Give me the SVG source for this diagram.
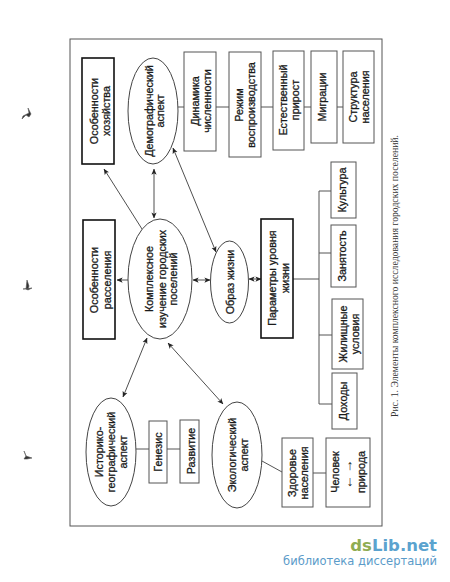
<svg xmlns="http://www.w3.org/2000/svg" width="450" height="582" viewBox="0 0 450 582">
<style>
.b{fill:#fff;stroke:#555;stroke-width:1}
.t{fill:#fff;stroke:#111;stroke-width:1.6}
.e{fill:#fff;stroke:#444;stroke-width:1}
.l{fill:none;stroke:#555;stroke-width:1}
.a{fill:none;stroke:#222;stroke-width:.8;marker-end:url(#h)}
.d{fill:none;stroke:#222;stroke-width:.8;marker-end:url(#h);marker-start:url(#h)}
text{font-family:"Liberation Sans",Arial,sans-serif;font-size:10.8px;font-weight:400;fill:#1a1a1a;stroke:#1a1a1a;stroke-width:.3;text-anchor:middle}
.s{fill:#333;stroke:#555;stroke-width:.6}
</style>
<defs>
<marker id="h" viewBox="0 0 8 8" refX="7.5" refY="4" markerWidth="6" markerHeight="6" markerUnits="userSpaceOnUse" orient="auto-start-reverse"><path d="M0 .5L8 4L0 7.5L2 4Z" fill="#222"/></marker>
</defs>
<rect width="450" height="582" fill="#fff"/>
<g id="specks">
<path class="s" d="M22 119L23 116L29 113L28 108L31 114L29 117L26 115Z"/>
<path class="s" d="M23 289L32 288L28 290L26 289L27 280L29 286L28 289Z"/>
<path class="s" d="M24 451L26 456L32 458L27 459L24 459L26 456Z"/>
</g>
<rect id="frame" x="70" y="39" width="312" height="487" fill="none" stroke="#555" stroke-width="1"/>
<g id="connectors">
<path class="l" d="M178 107H343"/>
<path class="l" d="M293 279H319M319 191V404M319 191H331M319 253H331M319 335H332M319 404H332"/>
<path class="l" d="M136 449H180"/>
<path class="l" d="M262 461L282 472M313 473H326"/>
<path class="a" d="M128 280H117"/>
<path class="a" d="M142 229L104 169"/>
<path class="d" d="M154 169V218"/>
<path class="d" d="M173 148L216 252"/>
<path class="d" d="M193 280H210"/>
<path class="d" d="M249 279H261"/>
<path class="d" d="M147 338L123 397"/>
<path class="d" d="M168 343L223 404"/>
</g>
<g id="n-hoz"><rect class="t" x="82" y="58" width="32" height="106"/><text transform="translate(98,111) rotate(-90)">Особенности</text><text transform="translate(110,111) rotate(-90)">хозяйства</text></g>
<g id="n-ras"><rect class="t" x="83" y="220" width="32" height="119"/><text transform="translate(98,280) rotate(-90)">Особенности</text><text transform="translate(111,280) rotate(-90)">расселения</text></g>
<g id="n-dem"><ellipse class="e" cx="153" cy="111" rx="25" ry="53"/><text transform="translate(153,111) rotate(-90)">Демографический</text><text transform="translate(164,111) rotate(-90)">аспект</text></g>
<g id="n-din"><rect class="b" x="184" y="52" width="32" height="99"/><text transform="translate(199,101) rotate(-90)">Динамика</text><text transform="translate(211,101) rotate(-90)">численности</text></g>
<g id="n-rez"><rect class="b" x="229" y="52" width="32" height="105"/><text transform="translate(243,105) rotate(-90)">Режим</text><text transform="translate(255,105) rotate(-90)">воспроизводства</text></g>
<g id="n-est"><rect class="b" x="273" y="51" width="31" height="99"/><text transform="translate(287,100) rotate(-90)">Естественный</text><text transform="translate(299,100) rotate(-90)">прирост</text></g>
<g id="n-mig"><rect class="b" x="311" y="51" width="26" height="92"/><text transform="translate(326,97) rotate(-90)">Миграции</text></g>
<g id="n-str"><rect class="b" x="343" y="51" width="31" height="92"/><text transform="translate(357,97) rotate(-90)">Структура</text><text transform="translate(369,97) rotate(-90)">населения</text></g>
<g id="n-kul"><rect class="b" x="331" y="162" width="25" height="56"/><text transform="translate(346,190) rotate(-90)">Культура</text></g>
<g id="n-zan"><rect class="b" x="331" y="225" width="25" height="62"/><text transform="translate(346,256) rotate(-90)">Занятость</text></g>
<g id="n-zhi"><rect class="b" x="332" y="299" width="31" height="70"/><text transform="translate(347,334) rotate(-90)">Жилищные</text><text transform="translate(359,334) rotate(-90)">условия</text></g>
<g id="n-dox"><rect class="b" x="332" y="373" width="25" height="56"/><text transform="translate(347,401) rotate(-90)">Доходы</text></g>
<g id="n-par"><rect class="t" x="261" y="219" width="32" height="119"/><text transform="translate(276,278) rotate(-90)">Параметры уровня</text><text transform="translate(289,278) rotate(-90)">жизни</text></g>
<g id="n-obr"><ellipse class="e" cx="229.500" cy="282" rx="19" ry="41"/><text transform="translate(234,282) rotate(-90)">Образ жизни</text></g>
<g id="n-kom"><ellipse class="e" cx="160" cy="279" rx="32" ry="60"/><text transform="translate(153,279) rotate(-90)">Комплексное</text><text transform="translate(166,279) rotate(-90)">изучение городских</text><text transform="translate(177,279) rotate(-90)">поселений</text></g>
<g id="n-ist"><ellipse class="e" cx="111" cy="452" rx="25" ry="54"/><text transform="translate(103,452) rotate(-90)">Историко-</text><text transform="translate(115,452) rotate(-90)">географический</text><text transform="translate(127,452) rotate(-90)">аспект</text></g>
<g id="n-gen"><rect class="b" x="149" y="421" width="18" height="62"/><text transform="translate(162,452) rotate(-90)">Генезис</text></g>
<g id="n-raz"><rect class="b" x="180" y="420" width="19" height="63"/><text transform="translate(195,451) rotate(-90)">Развитие</text></g>
<g id="n-eko"><ellipse class="e" cx="237" cy="455" rx="25" ry="53"/><text transform="translate(236,455) rotate(-90)">Экологический</text><text transform="translate(248,455) rotate(-90)">аспект</text></g>
<g id="n-zdo"><rect class="b" x="282" y="438" width="31" height="69"/><text transform="translate(296,473) rotate(-90)">Здоровье</text><text transform="translate(308,473) rotate(-90)">населения</text></g>
<g id="n-che"><rect class="b" x="326" y="438" width="44" height="69"/><text transform="translate(339,472) rotate(-90)">Человек</text><text x="350" y="486" style="font-size:14px;stroke-width:0">↓</text><text x="350" y="470" style="font-size:14px;stroke-width:0">↑</text><text transform="translate(365,472) rotate(-90)">природа</text></g>
<g id="caption"><text transform="translate(398,276) rotate(-90)" textLength="282" lengthAdjust="spacingAndGlyphs" style="font-family:'Liberation Serif',serif;stroke-width:0;font-size:10.500px;fill:#333">Рис. 1. Элементы комплексного исследования городских поселений.</text></g>
<g id="watermark"><text x="437" y="551" style="font-family:'DejaVu Sans',sans-serif;font-weight:700;stroke-width:0;font-size:16.500px;text-anchor:end;fill:#5ba3cf"><tspan fill="#8fac52">ds</tspan>Lib.net</text><text x="437" y="565" style="font-family:'DejaVu Sans',sans-serif;stroke-width:0;font-size:11.500px;text-anchor:end;fill:#5b9bc9">библиотека диссертаций</text></g>
</svg>
